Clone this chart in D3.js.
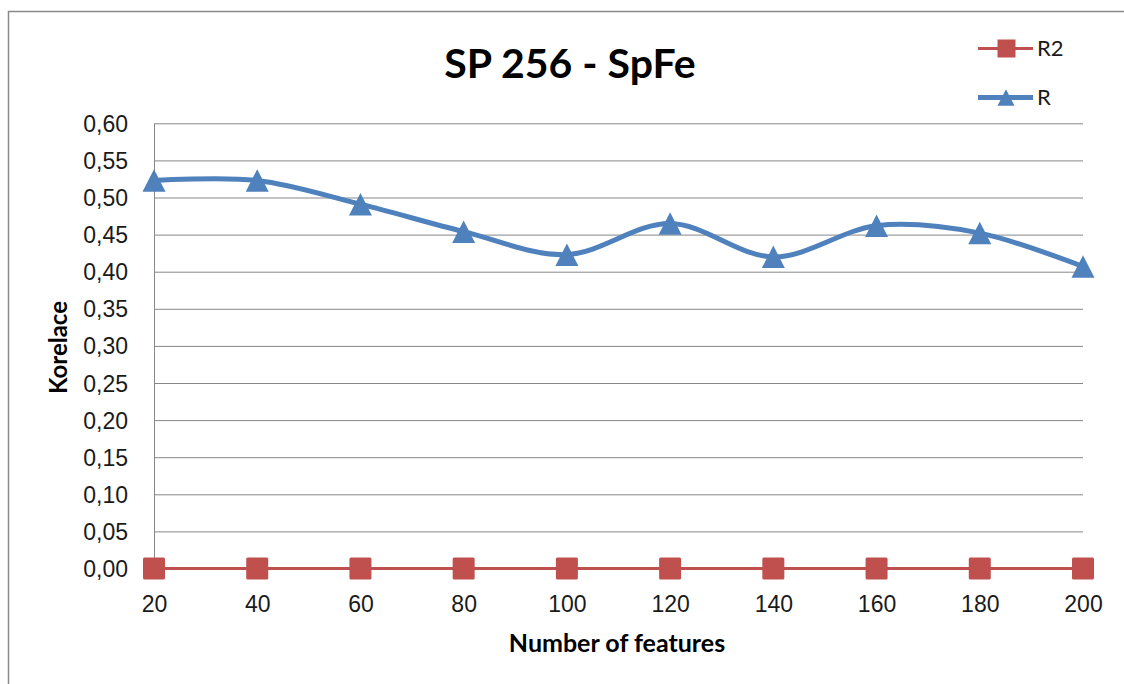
<!DOCTYPE html>
<html lang="en">
<head>
    <meta charset="UTF-8">
    <title>SP 256 - SpFe</title>
    <script src="https://cdnjs.cloudflare.com/ajax/libs/d3/7.8.5/d3.min.js"></script>
    <style>
        body {
            margin: 0;
            background: white;
            font-family: Lato, "Open Sans", sans-serif;
            overflow: hidden;
        }
        svg {
            display: block;
        }
        .grid line {
            stroke: #878787;
            stroke-width: 1px;
        }
        .grid .domain {
            stroke: #878787;
        }
        .tick text {
            fill: #1a1a1a;
            font-size: 23px;
        }
    </style>
</head>
<body>
    <svg width="1124" height="684"></svg>

    <script>
        // data
        const features = [20, 40, 60, 80, 100, 120, 140, 160, 180, 200];
        const rValues = [0.523, 0.523, 0.491, 0.454, 0.423, 0.465, 0.420, 0.462, 0.452, 0.407];
        const r2Values = [0, 0, 0, 0, 0, 0, 0, 0, 0, 0];
        const yTicks = [0, 0.05, 0.10, 0.15, 0.20, 0.25, 0.30, 0.35, 0.40, 0.45, 0.50, 0.55, 0.60];

        const red = "#c0504d";
        const blue = "#4f81bd";

        const svg = d3.select("svg");

        // chart frame (cut off on the right and bottom like the original)
        svg.append("rect")
            .attr("x", 8.5).attr("y", 11.5)
            .attr("width", 1140).attr("height", 700)
            .attr("fill", "white")
            .attr("stroke", "#8a8a8a")
            .attr("stroke-width", 1.5);

        const plotLeft = 154, plotRight = 1083, plotTop = 123.3, plotBottom = 568.5;

        const x = d3.scalePoint().domain(features).range([plotLeft, plotRight]);
        const y = d3.scaleLinear().domain([0, 0.6]).range([plotBottom, plotTop]);
        const fmt = v => d3.format(".2f")(v).replace(".", ",");

        // y axis with gridlines
        svg.append("g")
            .attr("class", "grid")
            .attr("transform", `translate(${plotLeft},0)`)
            .call(d3.axisLeft(y).tickValues(yTicks).tickFormat(fmt)
                .tickSize(-(plotRight - plotLeft)).tickSizeOuter(0).tickPadding(26))
            .call(g => g.selectAll("text").attr("dy", "0.35em"));

        // x axis labels
        svg.append("g")
            .attr("transform", `translate(0,${plotBottom})`)
            .call(d3.axisBottom(x).tickSize(0).tickPadding(27))
            .call(g => g.select(".domain").remove());

        // series
        const lineR = d3.line()
            .x((d, i) => x(features[i]))
            .y(d => y(d))
            .curve(d3.curveCardinal.tension(0));

        const lineR2 = d3.line()
            .x((d, i) => x(features[i]))
            .y(d => y(d));

        svg.append("path")
            .datum(r2Values)
            .attr("fill", "none")
            .attr("stroke", red)
            .attr("stroke-width", 3)
            .attr("d", lineR2);

        svg.selectAll(".sq")
            .data(r2Values)
            .enter()
            .append("rect")
            .attr("class", "sq")
            .attr("x", (d, i) => x(features[i]) - 11)
            .attr("y", d => y(d) - 11)
            .attr("width", 22).attr("height", 22)
            .attr("rx", 1.5)
            .attr("fill", red);

        svg.append("path")
            .datum(rValues)
            .attr("fill", "none")
            .attr("stroke", blue)
            .attr("stroke-width", 5)
            .attr("d", lineR);

        const tri = (cx, cy, w, h) =>
            `M${cx},${cy - h / 2}L${cx + w / 2},${cy + h / 2}L${cx - w / 2},${cy + h / 2}Z`;

        svg.selectAll(".tri")
            .data(rValues)
            .enter()
            .append("path")
            .attr("class", "tri")
            .attr("d", (d, i) => tri(x(features[i]), y(d), 23, 22.5))
            .attr("fill", blue);

        // title and axis titles
        svg.append("text")
            .attr("x", 570).attr("y", 78)
            .attr("text-anchor", "middle")
            .style("font-size", "41px")
            .style("font-weight", "bold")
            .text("SP 256 - SpFe");

        svg.append("text")
            .attr("x", 617).attr("y", 652)
            .attr("text-anchor", "middle")
            .style("font-size", "25px")
            .style("font-weight", "bold")
            .text("Number of features");

        svg.append("text")
            .attr("transform", "translate(67,347.5) rotate(-90)")
            .attr("text-anchor", "middle")
            .style("font-size", "24px")
            .style("font-weight", "bold")
            .text("Korelace");

        // legend
        const legend = [
            { name: "R2", color: red, y: 48.5, width: 3 },
            { name: "R", color: blue, y: 97.5, width: 5 }
        ];

        const lg = svg.selectAll(".legend")
            .data(legend)
            .enter()
            .append("g")
            .attr("class", "legend");

        lg.append("line")
            .attr("x1", 978).attr("x2", 1033)
            .attr("y1", d => d.y).attr("y2", d => d.y)
            .attr("stroke", d => d.color)
            .attr("stroke-width", d => d.width);

        lg.filter(d => d.name === "R2").append("rect")
            .attr("x", 997.5).attr("y", d => d.y - 9)
            .attr("width", 18).attr("height", 18)
            .attr("fill", red);

        lg.filter(d => d.name === "R").append("path")
            .attr("d", d => tri(1006, d.y, 17, 16.5))
            .attr("fill", blue);

        lg.append("text")
            .attr("x", 1037).attr("y", d => d.y)
            .attr("dy", "0.35em")
            .style("font-size", "22px")
            .attr("fill", "#1a1a1a")
            .text(d => d.name);
    </script>
</body>
</html>
